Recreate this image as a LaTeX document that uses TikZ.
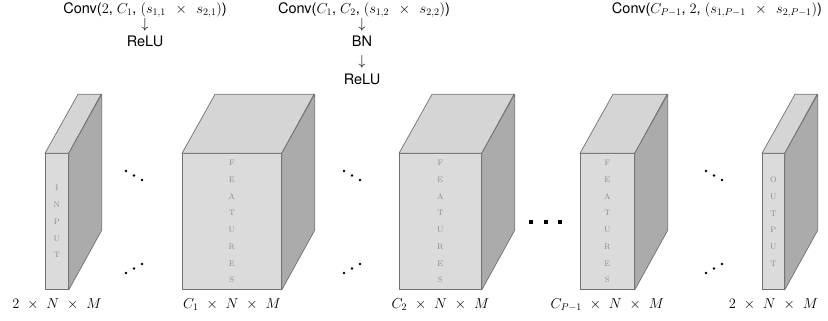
\documentclass[tikz,border=0pt]{standalone}
\usepackage{fontspec}
\setsansfont{TeX Gyre Heros}
\definecolor{frontc}{HTML}{DBDBDB}
\definecolor{topc}{HTML}{D5D5D5}
\definecolor{sidec}{HTML}{ABABAB}
\definecolor{edgec}{HTML}{707070}
\definecolor{letc}{HTML}{8A8A8A}
\tikzset{
  face/.style={draw=edgec, line width=0.7pt, line join=round},
  frontface/.style={face, fill=frontc, rectangle, inner sep=0pt, minimum height=136pt, anchor=south west},
  letters/.style={text=letc, font=\fontsize{8}{16.7}\selectfont, align=center, inner sep=0pt},
  dimlabel/.style={font=\fontsize{14.5}{17}\selectfont, inner sep=0pt, anchor=base},
  convlabel/.style={font=\sffamily\fontsize{14.5}{17}\selectfont, inner sep=0pt, anchor=base},
  dotc/.style={fill=black},
}
\newcommand{\mycuboid}[5]{% name, x left, width, letters, label
  \node[frontface, minimum width=#3pt] (#1) at (#2,290) {};
  \fill[face, fill=topc] (#1.north west) -- ++(33,-59) -- ++(#3,0) -- (#1.north east) -- cycle;
  \fill[face, fill=sidec] (#1.north east) -- ++(33,-59) -- ++(0,136) -- (#1.south east) -- cycle;
  \node[letters] (#1t) at (#1.center) {#4};
  \node[dimlabel] (#1l) at ([yshift=-18pt]#1.south) {#5};
}
\newcommand{\dnd}[2]{% x, y of first dot (ddots)
  \foreach \k in {0,1,2} {\fill[dotc] (#1+8*\k,#2+4.5*\k) circle (1.3pt);}
}
\newcommand{\upd}[2]{%
  \foreach \k in {0,1,2} {\fill[dotc] (#1+8*\k,#2-4.5*\k) circle (1.3pt);}
}
\newcommand{\tms}{\ \,\times\ \,}
\begin{document}
\begin{tikzpicture}[x=1pt, y=-1pt]
\useasboundingbox (0,0) rectangle (828,321);
\mycuboid{in}{45}{23}{I\\N\\P\\U\\T}{$2\ \times\ N\ \times\ M$}
\mycuboid{fa}{182}{99}{F\\E\\A\\T\\U\\R\\E\\S}{$C_1\ \times\ N\ \times\ M$}
\mycuboid{fb}{399}{82}{F\\E\\A\\T\\U\\R\\E\\S}{$C_2\ \times\ N\ \times\ M$}
\mycuboid{fc}{580}{54}{F\\E\\A\\T\\U\\R\\E\\S}{$C_{P-1}\ \times\ N\ \times\ M$}
\mycuboid{out}{762}{22}{O\\U\\T\\P\\U\\T}{$2\ \times\ N\ \times\ M$}
% diagonal dots
\dnd{126}{171} \upd{126}{273}
\dnd{344}{171} \upd{344}{273}
\dnd{706}{171} \upd{706}{273}
% horizontal dots
\foreach \xx in {531,546,560} {\fill[dotc] (\xx-1.6,222-1.6) rectangle (\xx+1.6,222+1.6);}
% conv labels
\node[convlabel] (c1) at (145,13.5) {Conv($2$, $C_1$, $(s_{1,1}\tms s_{2,1})$)};
\node[convlabel] (c1a) at (145,29) {$\downarrow$};
\node[convlabel] (c1b) at (145,46.5) {ReLU};
\node[convlabel] (c2) at (364,13.5) {Conv($C_1$, $C_2$, $(s_{1,2}\tms s_{2,2})$)};
\node[convlabel] (c2a) at (362,29) {$\downarrow$};
\node[convlabel] (c2b) at (362,46.5) {BN};
\node[convlabel] (c2c) at (362,65.5) {$\downarrow$};
\node[convlabel] (c2d) at (362,84.5) {ReLU};
\node[convlabel] (c3) at (717,13.5) {Conv($C_{P-1}$, $2$, $(s_{1,P-1}\tms s_{2,P-1})$)};
\end{tikzpicture}
\end{document}
